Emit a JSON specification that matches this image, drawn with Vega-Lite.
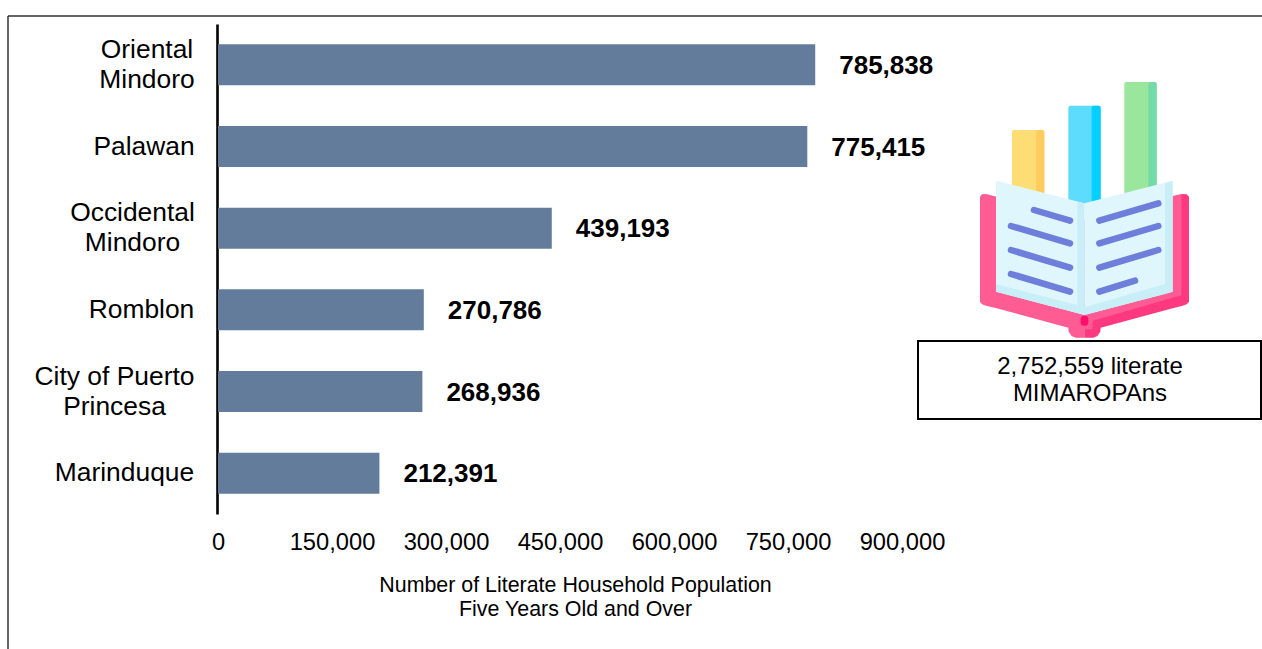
{
  "$schema": "https://vega.github.io/schema/vega-lite/v6.json",
  "width": 684,
  "height": 490,
  "padding": {"left": 218, "top": 24, "right": 360, "bottom": 135},
  "autosize": {"type": "none"},
  "background": "white",
  "config": {
    "view": {"stroke": null},
    "font": "Liberation Sans",
    "text": {"font": "Liberation Sans"}
  },
  "datasets": {
    "municipalities": [
      {"province": "Oriental\nMindoro", "literate": 785838},
      {"province": "Palawan", "literate": 775415},
      {"province": "Occidental\nMindoro", "literate": 439193},
      {"province": "Romblon", "literate": 270786},
      {"province": "City of Puerto\nPrincesa", "literate": 268936},
      {"province": "Marinduque", "literate": 212391}
    ],
    "frame": [
      {"fromX": 8, "fromY": 16, "toX": 1262, "toY": 16},
      {"fromX": 8, "fromY": 16, "toX": 8, "toY": 649}
    ],
    "totalBox": [{"x0": 918, "y0": 341, "x1": 1261, "y1": 419, "note": "2,752,559 literate\nMIMAROPAns", "cx": 1090, "cy": 367}],
    "iconBlocks": [
      {"part": "yellow", "x0": 306, "x1": 403, "y0": 180, "y1": 375},
      {"part": "yellowShade", "x0": 378, "x1": 403, "y0": 180, "y1": 375},
      {"part": "blue", "x0": 475, "x1": 572, "y0": 107, "y1": 405},
      {"part": "blueShade", "x0": 545, "x1": 572, "y0": 107, "y1": 405},
      {"part": "green", "x0": 643, "x1": 740, "y0": 36, "y1": 375},
      {"part": "greenShade", "x0": 715, "x1": 740, "y0": 36, "y1": 375}
    ],
    "coverOutline": [
      {"x": 210, "top": 380, "bottom": 695},
      {"x": 216, "top": 373, "bottom": 703},
      {"x": 228, "top": 372, "bottom": 707},
      {"x": 260, "top": 380, "bottom": 715},
      {"x": 475, "top": 450, "bottom": 773},
      {"x": 476, "top": 450, "bottom": 785},
      {"x": 485, "top": 450, "bottom": 798},
      {"x": 497, "top": 450, "bottom": 803},
      {"x": 523, "top": 450, "bottom": 803}
    ],
    "coverOutlineShade": [
      {"x": 523, "top": 450, "bottom": 803},
      {"x": 550, "top": 450, "bottom": 803},
      {"x": 562, "top": 450, "bottom": 798},
      {"x": 571, "top": 450, "bottom": 785},
      {"x": 572, "top": 450, "bottom": 773},
      {"x": 788, "top": 380, "bottom": 715},
      {"x": 818, "top": 372, "bottom": 707},
      {"x": 830, "top": 373, "bottom": 703},
      {"x": 837, "top": 380, "bottom": 695}
    ],
    "coverInner": [
      {"x": 523, "top": 700, "bottom": 778},
      {"x": 547, "top": 700, "bottom": 778},
      {"x": 548, "top": 700, "bottom": 752},
      {"x": 788, "top": 378, "bottom": 683},
      {"x": 814, "top": 372, "bottom": 676}
    ],
    "leftPage": [
      {"x": 258, "top": 332, "bottom": 665},
      {"x": 523, "top": 400, "bottom": 735}
    ],
    "rightPage": [
      {"x": 523, "top": 400, "bottom": 735},
      {"x": 788, "top": 332, "bottom": 665}
    ],
    "leftPageEdge": [
      {"x": 258, "top": 642, "bottom": 665},
      {"x": 502, "top": 705, "bottom": 729}
    ],
    "rightPageEdge": [
      {"x": 523, "top": 712, "bottom": 735},
      {"x": 765, "top": 642, "bottom": 672}
    ],
    "spine": [
      {"x": 502, "top": 395, "bottom": 729},
      {"x": 523, "top": 400, "bottom": 735}
    ],
    "pageMargin": [
      {"x": 765, "top": 339, "bottom": 672},
      {"x": 788, "top": 332, "bottom": 665}
    ],
    "ribbon": [{"x0": 512, "x1": 535, "y0": 737, "y1": 767}],
    "textLines": [
      {"x0": 372, "y0": 420, "x1": 480, "y1": 452},
      {"x0": 303, "y0": 468, "x1": 480, "y1": 520},
      {"x0": 303, "y0": 540, "x1": 480, "y1": 593},
      {"x0": 303, "y0": 612, "x1": 480, "y1": 665},
      {"x0": 568, "y0": 452, "x1": 745, "y1": 400},
      {"x0": 568, "y0": 520, "x1": 745, "y1": 468},
      {"x0": 568, "y0": 593, "x1": 745, "y1": 540},
      {"x0": 568, "y0": 665, "x1": 675, "y1": 632}
    ]
  },
  "layer": [
    {
      "data": {"name": "frame"},
      "mark": {"type": "rule", "stroke": "#333333", "strokeWidth": 1.5, "clip": false},
      "encoding": {
        "x": {"field": "fromX", "type": "quantitative", "axis": null, "scale": {"domain": [0, 1262], "range": [-218, 1044], "nice": false}},
        "x2": {"field": "toX"},
        "y": {"field": "fromY", "type": "quantitative", "axis": null, "scale": {"domain": [0, 649], "range": [-24, 625], "nice": false}},
        "y2": {"field": "toY"}
      }
    },
    {
      "data": {"name": "municipalities"},
      "encoding": {
        "x": {
          "field": "literate",
          "type": "quantitative",
          "scale": {"domain": [0, 900000], "nice": false},
          "axis": {
            "values": [0, 150000, 300000, 450000, 600000, 750000, 900000],
            "format": ",d",
            "grid": false,
            "domain": false,
            "ticks": false,
            "labelFontSize": 23.7,
            "labelColor": "#000000",
            "labelPadding": 16,
            "labelFlush": false,
            "title": ["Number of Literate Household Population", "Five Years Old and Over"],
            "titleFontSize": 21.4,
            "titleFontWeight": "normal",
            "titleColor": "#000000",
            "titleLineHeight": 24,
            "titleX": 357,
            "titleY": 60,
            "titleBaseline": "top"
          }
        },
        "y": {
          "field": "province",
          "type": "nominal",
          "sort": null,
          "scale": {"paddingInner": 0, "paddingOuter": 0},
          "axis": {
            "title": null,
            "ticks": false,
            "grid": false,
            "offset": 1,
            "domainColor": "#000000",
            "domainWidth": 2.6,
            "labelFontSize": 26.4,
            "labelColor": "#000000",
            "labelLineHeight": 30,
            "labelPadding": 0,
            "labelLimit": 400,
            "labelAlign": "center",
            "labelExpr": "split(datum.label, '\\n')",
            "encoding": {
              "labels": {
                "dx": {"value": {"signal": "indexof(datum.value, 'City') === 0 ? -103 : indexof(datum.value, 'Occidental') === 0 ? -85 : indexof(datum.value, 'Oriental') === 0 ? -70.5 : indexof(datum.value, 'Palawan') === 0 ? -73.5 : indexof(datum.value, 'Romblon') === 0 ? -76 : -93"}},
                "dy": {"value": {"signal": "indexof(datum.value, '\\n') >= 0 ? -15 : 0"}}
              }
            }
          }
        }
      },
      "layer": [
        {"mark": {"type": "bar", "color": "#647c9c", "size": 41}},
        {
          "mark": {"type": "text", "align": "left", "baseline": "middle", "dx": 24, "dy": 1, "fontSize": 26, "fontWeight": "bold", "color": "#000000"},
          "encoding": {"text": {"field": "literate", "type": "quantitative", "format": ",d"}}
        }
      ]
    },
    {
      "layer": [
        {
          "data": {"name": "iconBlocks"},
          "transform": [{"filter": "datum.part === 'yellow'"}],
          "mark": {"type": "rect", "color": "#ffdd75", "cornerRadius": 2, "clip": false},
          "encoding": {
            "x": {"field": "x0", "type": "quantitative", "axis": null, "scale": {"domain": [0, 1056], "range": [692, 1044], "nice": false}},
            "x2": {"field": "x1"},
            "y": {"field": "y0", "type": "quantitative", "axis": null, "scale": {"domain": [0, 1080], "range": [46, 406], "nice": false}},
            "y2": {"field": "y1"}
          }
        },
        {"data": {"name": "iconBlocks"}, "transform": [{"filter": "datum.part === 'yellowShade'"}], "mark": {"type": "rect", "color": "#ffcc5e", "cornerRadius": 2}, "encoding": {"x": {"field": "x0", "type": "quantitative"}, "x2": {"field": "x1"}, "y": {"field": "y0", "type": "quantitative"}, "y2": {"field": "y1"}}},
        {"data": {"name": "iconBlocks"}, "transform": [{"filter": "datum.part === 'blue'"}], "mark": {"type": "rect", "color": "#5edcfd", "cornerRadius": 2}, "encoding": {"x": {"field": "x0", "type": "quantitative"}, "x2": {"field": "x1"}, "y": {"field": "y0", "type": "quantitative"}, "y2": {"field": "y1"}}},
        {"data": {"name": "iconBlocks"}, "transform": [{"filter": "datum.part === 'blueShade'"}], "mark": {"type": "rect", "color": "#00cfff", "cornerRadius": 2}, "encoding": {"x": {"field": "x0", "type": "quantitative"}, "x2": {"field": "x1"}, "y": {"field": "y0", "type": "quantitative"}, "y2": {"field": "y1"}}},
        {"data": {"name": "iconBlocks"}, "transform": [{"filter": "datum.part === 'green'"}], "mark": {"type": "rect", "color": "#9be69d", "cornerRadius": 2}, "encoding": {"x": {"field": "x0", "type": "quantitative"}, "x2": {"field": "x1"}, "y": {"field": "y0", "type": "quantitative"}, "y2": {"field": "y1"}}},
        {"data": {"name": "iconBlocks"}, "transform": [{"filter": "datum.part === 'greenShade'"}], "mark": {"type": "rect", "color": "#73dba8", "cornerRadius": 2}, "encoding": {"x": {"field": "x0", "type": "quantitative"}, "x2": {"field": "x1"}, "y": {"field": "y0", "type": "quantitative"}, "y2": {"field": "y1"}}},
        {"data": {"name": "coverOutline"}, "mark": {"type": "area", "color": "#ff5c93"}, "encoding": {"x": {"field": "x", "type": "quantitative"}, "y": {"field": "top", "type": "quantitative"}, "y2": {"field": "bottom"}}},
        {"data": {"name": "coverOutlineShade"}, "mark": {"type": "area", "color": "#ff3980"}, "encoding": {"x": {"field": "x", "type": "quantitative"}, "y": {"field": "top", "type": "quantitative"}, "y2": {"field": "bottom"}}},
        {"data": {"name": "coverInner"}, "mark": {"type": "area", "color": "#ff5c93"}, "encoding": {"x": {"field": "x", "type": "quantitative"}, "y": {"field": "top", "type": "quantitative"}, "y2": {"field": "bottom"}}},
        {"data": {"name": "leftPage"}, "mark": {"type": "area", "color": "#dff6fd"}, "encoding": {"x": {"field": "x", "type": "quantitative"}, "y": {"field": "top", "type": "quantitative"}, "y2": {"field": "bottom"}}},
        {"data": {"name": "rightPage"}, "mark": {"type": "area", "color": "#dff6fd"}, "encoding": {"x": {"field": "x", "type": "quantitative"}, "y": {"field": "top", "type": "quantitative"}, "y2": {"field": "bottom"}}},
        {"data": {"name": "leftPageEdge"}, "mark": {"type": "area", "color": "#c8eff8"}, "encoding": {"x": {"field": "x", "type": "quantitative"}, "y": {"field": "top", "type": "quantitative"}, "y2": {"field": "bottom"}}},
        {"data": {"name": "rightPageEdge"}, "mark": {"type": "area", "color": "#c8eff8"}, "encoding": {"x": {"field": "x", "type": "quantitative"}, "y": {"field": "top", "type": "quantitative"}, "y2": {"field": "bottom"}}},
        {"data": {"name": "pageMargin"}, "mark": {"type": "area", "color": "#c8eff8"}, "encoding": {"x": {"field": "x", "type": "quantitative"}, "y": {"field": "top", "type": "quantitative"}, "y2": {"field": "bottom"}}},
        {"data": {"name": "spine"}, "mark": {"type": "area", "color": "#c8eff8"}, "encoding": {"x": {"field": "x", "type": "quantitative"}, "y": {"field": "top", "type": "quantitative"}, "y2": {"field": "bottom"}}},
        {"data": {"name": "ribbon"}, "mark": {"type": "rect", "color": "#ff0f6b", "cornerRadius": 3}, "encoding": {"x": {"field": "x0", "type": "quantitative"}, "x2": {"field": "x1"}, "y": {"field": "y0", "type": "quantitative"}, "y2": {"field": "y1"}}},
        {"data": {"name": "textLines"}, "mark": {"type": "rule", "stroke": "#6e7fdb", "strokeWidth": 6.5, "strokeCap": "round"}, "encoding": {"x": {"field": "x0", "type": "quantitative"}, "x2": {"field": "x1"}, "y": {"field": "y0", "type": "quantitative"}, "y2": {"field": "y1"}}}
      ]
    },
    {
      "layer": [
        {
          "data": {"name": "totalBox"},
          "mark": {"type": "rect", "fill": "white", "stroke": "#000000", "strokeWidth": 2, "clip": false},
          "encoding": {
            "x": {"field": "x0", "type": "quantitative", "axis": null, "scale": {"domain": [0, 1262], "range": [-218, 1044], "nice": false}},
            "x2": {"field": "x1"},
            "y": {"field": "y0", "type": "quantitative", "axis": null, "scale": {"domain": [0, 649], "range": [-24, 625], "nice": false}},
            "y2": {"field": "y1"}
          }
        },
        {
          "data": {"name": "totalBox"},
          "mark": {"type": "text", "align": "center", "baseline": "middle", "fontSize": 24, "lineHeight": 27, "lineBreak": "\n", "color": "#000000"},
          "encoding": {
            "x": {"field": "cx", "type": "quantitative"},
            "y": {"field": "cy", "type": "quantitative"},
            "text": {"field": "note"}
          }
        }
      ]
    }
  ],
  "resolve": {"scale": {"x": "independent", "y": "independent"}, "axis": {"x": "independent", "y": "independent"}}
}
